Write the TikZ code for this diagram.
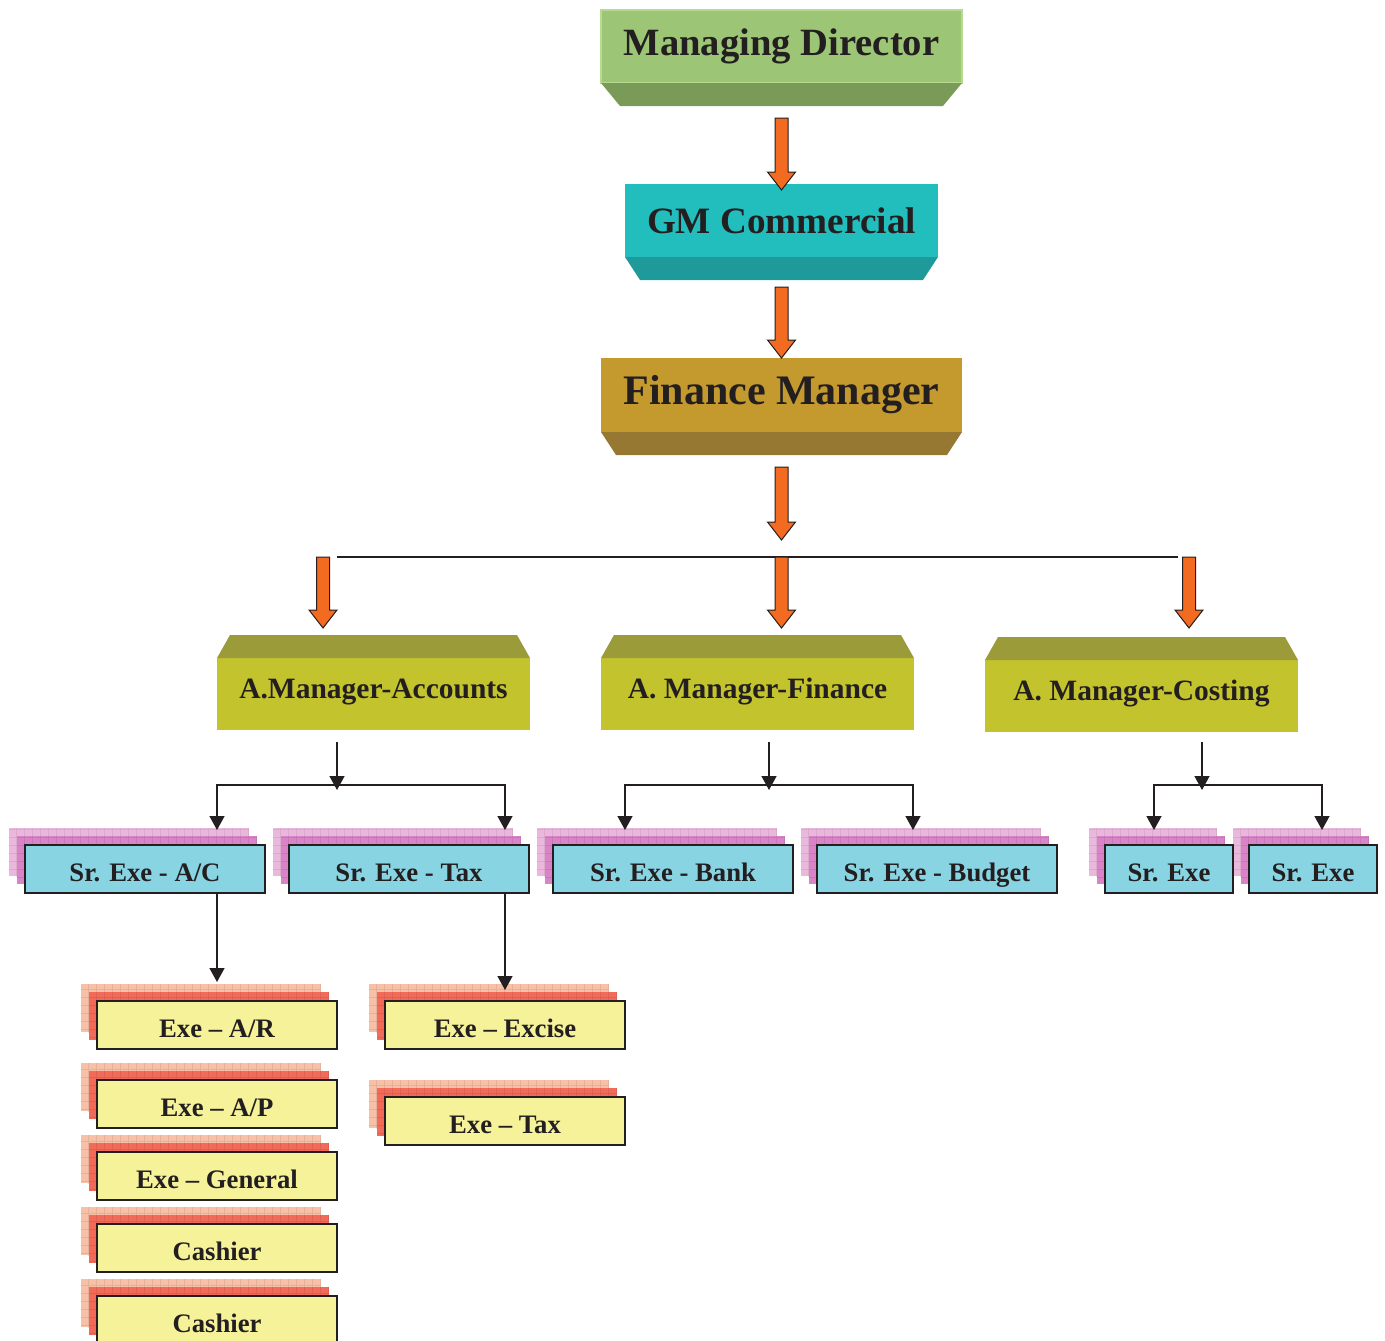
\documentclass[tikz,border=0pt]{standalone}
\usepackage{fontspec}
\setmainfont{Liberation Serif}
\usetikzlibrary{arrows.meta, positioning, calc, backgrounds, patterns.meta}

\definecolor{ink}{HTML}{231F20}
\definecolor{mdgreen}{HTML}{9CC576}
\definecolor{mdgreendk}{HTML}{7A9A58}
\definecolor{mdlight}{HTML}{B8D990}
\definecolor{gmteal}{HTML}{22BDBD}
\definecolor{gmtealdk}{HTML}{1E9A9A}
\definecolor{fmgold}{HTML}{C49A2E}
\definecolor{fmgolddk}{HTML}{967832}
\definecolor{amolive}{HTML}{C3C32E}
\definecolor{amolivedk}{HTML}{9B9B3A}
\definecolor{srcyan}{HTML}{89D4E2}
\definecolor{exyellow}{HTML}{F6F29A}
\definecolor{pinklt}{HTML}{EBB8DD}
\definecolor{pinkdk}{HTML}{D884C6}
\definecolor{salmonlt}{HTML}{F9C0A8}
\definecolor{salmondk}{HTML}{F26A58}
\definecolor{arrorange}{HTML}{F26B21}

% two offset grid layers behind a box: node, back colour, middle colour
\newcommand{\gridstack}[3]{%
  \begin{scope}[on background layer]
    \foreach \dx/\dy/\col in {-16/-17/#2, -8/-9/#3} {
      \fill[\col] ($(#1.north west)+(\dx,\dy)$) rectangle ($(#1.south east)+(\dx,\dy)$);
      \fill[pattern={Hatch[angle=0, distance=8pt, line width=0.7pt]},
            pattern color=\col!70!black, opacity=0.25]
        ($(#1.north west)+(\dx,\dy)$) rectangle ($(#1.south east)+(\dx,\dy)$);
    }
  \end{scope}}
% bevel under / over a box: node, colour, inset
\newcommand{\slabbelow}[3]{%
  \fill[#2] (#1.south west) -- (#1.south east) -- ++(-#3,23)
    -- ($(#1.south west)+(#3,23)$) -- cycle;}
\newcommand{\slababove}[3]{%
  \fill[#2] (#1.north west) -- (#1.north east) -- ++(-#3,-23)
    -- ($(#1.north west)+(#3,-23)$) -- cycle;}
% fat orange arrow from tail #1 straight down to tip #2
\newcommand{\fatarrow}[2]{%
  \filldraw[fatarr] ($(#1)+(-6.5,0)$) -- ($(#2)+(-6.5,-18)$) -- ($(#2)+(-14,-18)$)
    -- (#2) -- ($(#2)+(14,-18)$) -- ($(#2)+(6.5,-18)$) -- ($(#1)+(6.5,0)$) -- cycle;}

\begin{document}
\begin{tikzpicture}[x=1pt, y=-1pt,
  every node/.style={text=ink, inner sep=0pt, outer sep=0pt},
  headbox/.style={minimum height=73pt},
  mgrbox/.style={fill=amolive, minimum width=313pt, minimum height=72pt, text depth=11pt,
                 font=\fontsize{29.5}{31}\selectfont\bfseries},
  srbox/.style={draw=ink, line width=1.8pt, fill=srcyan, minimum width=240pt,
                minimum height=48pt, text height=24pt, text depth=0pt,
                font=\fontsize{26.7}{28}\selectfont\bfseries},
  exbox/.style={srbox, fill=exyellow},
  fatarr/.style={fill=arrorange, draw=ink, line width=1pt},
  link/.style={draw=ink, line width=1.5pt},
  thinarr/.style={link, -{Triangle[length=14pt, width=15pt]}}
]
  \useasboundingbox (0,0) rectangle (1385,1341);

  % top of the chain
  \node[headbox, fill=mdgreen, draw=mdlight, line width=1.5pt, minimum width=361pt,
        font=\fontsize{38.6}{40}\selectfont\bfseries] (md) at (781.5,46.5) {Managing Director};
  \slabbelow{md}{mdgreendk}{19}
  \node[headbox, fill=gmteal, minimum width=313pt,
        font=\fontsize{37.2}{40}\selectfont\bfseries] (gm) at (781.5,220.5) {GM Commercial};
  \slabbelow{gm}{gmtealdk}{15}
  \node[headbox, fill=fmgold, minimum width=361pt, minimum height=74pt,
        font=\fontsize{42}{44}\selectfont\bfseries] (fm) at (781.5,395) {Finance Manager};
  \slabbelow{fm}{fmgolddk}{15}

  \coordinate (t1) at ($(md.south)+(0,35)$);
  \coordinate (h1) at ($(gm.north)+(0,6)$);
  \coordinate (t2) at ($(gm.south)+(0,30)$);
  \coordinate (h2) at (fm.north);
  \coordinate (t3) at ($(fm.south)+(0,35)$);
  \coordinate (h3) at ($(fm.south)+(0,108)$);
  \fatarrow{t1}{h1}
  \fatarrow{t2}{h2}
  \fatarrow{t3}{h3}

  % assistant managers
  \node[mgrbox] (amacc)  at (373.5,694)  {A.Manager-Accounts};
  \node[mgrbox] (amfin)  at (757.5,694)  {A. Manager-Finance};
  \node[mgrbox] (amcost) at (1141.5,696) {A. Manager-Costing};
  \foreach \n in {amacc, amfin, amcost} {\slababove{\n}{amolivedk}{13}}

  \coordinate (busL) at (337,557);
  \coordinate (busR) at (1178,557);
  \draw[link] (busL) -- (busR);
  \coordinate (h4) at ($(amacc.north west)+(106,-30)$);
  \coordinate (t4) at (h4 |- busL);
  \coordinate (h5) at (fm.south |- h4);
  \coordinate (t5) at (fm.south |- busL);
  \coordinate (h6) at ($(amcost.north east)+(-109,-32)$);
  \coordinate (t6) at (h6 |- busL);
  \fatarrow{t4}{h4}
  \fatarrow{t5}{h5}
  \fatarrow{t6}{h6}

  % senior executives
  \node[srbox] (srac) at (145,869) {Sr. Exe - A/C};
  \node[srbox, right=24pt of srac]   (srtax)  {Sr. Exe - Tax};
  \node[srbox, right=24pt of srtax]  (srbank) {Sr. Exe - Bank};
  \node[srbox, right=24pt of srbank] (srbud)  {Sr. Exe - Budget};
  \node[srbox, minimum width=128pt] (srx1) at (1169,869) {Sr. Exe};
  \node[srbox, minimum width=128pt, right=16pt of srx1] (srx2) {Sr. Exe};
  \foreach \n in {srac, srtax, srbank, srbud, srx1, srx2} {\gridstack{\n}{pinklt}{pinkdk}}

  \coordinate (acchub)  at ($(amacc.south west)+(120,55)$);
  \coordinate (finhub)  at ($(amfin.south west)+(168,55)$);
  \coordinate (costhub) at ($(amcost.south west)+(217,53)$);
  \coordinate (acL)   at ($(srac.north west)+(192,-15)$);
  \coordinate (acR)   at ($(srtax.north west)+(216,-15)$);
  \coordinate (finL)  at ($(srbank.north west)+(72,-15)$);
  \coordinate (finR)  at ($(srbud.north west)+(96,-15)$);
  \coordinate (costL) at ($(srx1.north west)+(49,-15)$);
  \coordinate (costR) at ($(srx2.north west)+(73,-15)$);
  \draw[thinarr] (acchub |- amacc.south) ++(0,12) -- ($(acchub)+(0,5)$);
  \draw[thinarr] (finhub |- amfin.south) ++(0,12) -- ($(finhub)+(0,5)$);
  \draw[thinarr] (costhub |- amcost.south) ++(0,10) -- ($(costhub)+(0,5)$);
  \draw[thinarr] (acchub) -| (acL);
  \draw[thinarr] (acchub) -| (acR);
  \draw[thinarr] (finhub) -| (finL);
  \draw[thinarr] (finhub) -| (finR);
  \draw[thinarr] (costhub) -| (costL);
  \draw[thinarr] (costhub) -| (costR);

  % executives
  \node[exbox] (exar) at (217,1025) {Exe -- A/R};
  \node[exbox, below=31pt of exar]  (exap)  {Exe -- A/P};
  \node[exbox, below=24pt of exap]  (exgen) {Exe -- General};
  \node[exbox, below=24pt of exgen] (cash1) {Cashier};
  \node[exbox, below=24pt of cash1] (cash2) {Cashier};
  \node[exbox] (exexc) at (505,1025) {Exe -- Excise};
  \node[exbox, below=48pt of exexc] (extax) {Exe -- Tax};
  \foreach \n in {exar, exap, exgen, cash1, cash2, exexc, extax} {\gridstack{\n}{salmonlt}{salmondk}}

  \draw[thinarr] ($(srac.south west)+(192,0)$) -- ($(exar.north west)+(120,-19)$);
  \draw[thinarr] ($(srtax.south west)+(216,0)$) -- ($(exexc.north)+(0,-11)$);
\end{tikzpicture}
\end{document}
